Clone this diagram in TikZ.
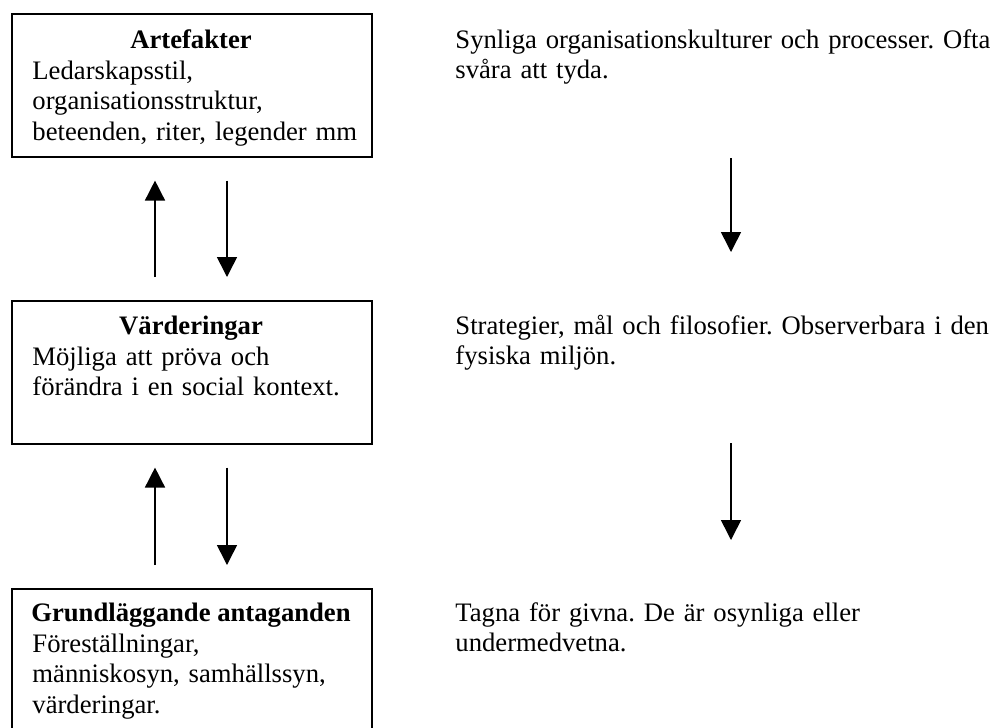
\documentclass[tikz,border=0pt]{standalone}
\usepackage{fontspec}
\setmainfont{Liberation Serif}
\usetikzlibrary{arrows.meta,calc}
\frenchspacing

\begin{document}
\begin{tikzpicture}[x=0.45pt,y=-0.45pt,
   every node/.style={font=\fontsize{12}{13.8}\selectfont, inner sep=0pt},
   level/.style={draw, line width=0.7pt, minimum width=162pt, minimum height=64.35pt, anchor=north west},
   body/.style={text width=160pt, align=left, anchor=base west},
   note/.style={body, text width=250pt},
   flow/.style={line width=0.7pt, -{Triangle[width=9pt,length=9pt]}},
   gap/.style={flow, shorten <=10.35pt, shorten >=10.35pt}]
   \clip (0,0) rectangle (993,727);
   \node[level] (arte) at (11,13) {};
   \node[level] (vard) at (11,300) {};
   \node[level] (grund) at (11,588) {};
   \node[anchor=base] (artehead) at (191,48) {\textbf{Artefakter}};
   \node[body] (artetext) at (32,79) {Ledarskapsstil,\\organisationsstruktur,\\beteenden, riter, legender mm};
   \node[anchor=base] (vardhead) at (191,334) {\textbf{Värderingar}};
   \node[body] (vardtext) at (32,365) {Möjliga att pröva och\\förändra i en social kontext.};
   \node[anchor=base] (grundhead) at (191,621) {\textbf{Grundläggande antaganden}};
   \node[body] (grundtext) at (32,652) {Föreställningar,\\människosyn, samhällssyn,\\värderingar.};
   \node[note] (artenote) at (455,48) {Synliga organisationskulturer och processer. Ofta\\svåra att tyda.};
   \node[note] (vardnote) at (455,334) {Strategier, mål och filosofier. Observerbara i den\\fysiska miljön.};
   \node[note] (grundnote) at (455,621) {Tagna för givna. De är osynliga eller\\undermedvetna.};
   \draw[gap] ($(vard.north west)+(144,0)$) -- ($(arte.south west)+(144,0)$);
   \draw[gap] ($(arte.south west)+(216,0)$) -- ($(vard.north west)+(216,0)$);
   \draw[gap] ($(grund.north west)+(144,0)$) -- ($(vard.south west)+(144,0)$);
   \draw[gap] ($(vard.south west)+(216,0)$) -- ($(grund.north west)+(216,0)$);
   \coordinate (down1) at (731,158);
   \coordinate (down1end) at (731,252);
   \coordinate (down2) at (731,443);
   \coordinate (down2end) at (731,540);
   \draw[flow] (down1) -- (down1end);
   \draw[flow] (down2) -- (down2end);
\end{tikzpicture}
\end{document}
